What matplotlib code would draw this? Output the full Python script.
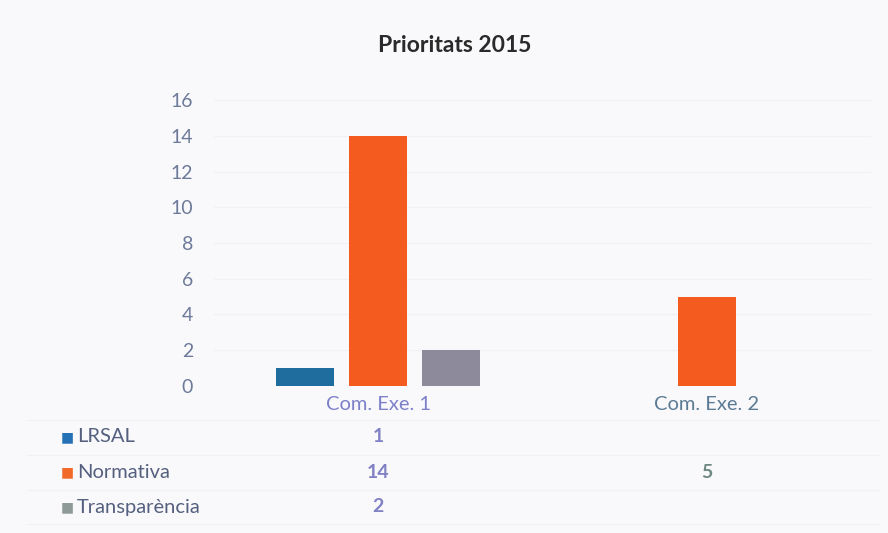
import matplotlib
matplotlib.use("Agg")
import matplotlib.pyplot as plt
from matplotlib.transforms import blended_transform_factory

categories = ["Com. Exe. 1", "Com. Exe. 2"]
series_names = ["LRSAL", "Normativa", "Transparència"]
lrsal = [1, None]
normativa = [14, 5]
transparencia = [2, None]
series_values = [lrsal, normativa, transparencia]
bar_colors = ["#1e6d9e", "#f45b1f", "#8d8b9b"]
legend_colors = ["#2472b5", "#f26a2a", "#8e9a98"]
yticks = [0, 2, 4, 6, 8, 10, 12, 14, 16]
title = "Prioritats 2015"

plt.rcParams["font.family"] = ["Lato", "DejaVu Sans"]

fig = plt.figure(figsize=(8.88, 5.33), dpi=100)
fig.patch.set_facecolor("#f9f9fc")
ax = fig.add_axes([0.241, 0.276, 0.740, 0.536])
ax.set_facecolor("#f9f9fc")

bw = 0.176
step = 0.222
for ci, cat in enumerate(categories):
    present = [(si, vals[ci]) for si, vals in enumerate(series_values) if vals[ci] is not None]
    n = len(present)
    for k, (si, v) in enumerate(present):
        x = ci + (k - (n - 1) / 2) * step
        ax.bar(x, v, width=bw, color=bar_colors[si], zorder=3)

ax.set_xlim(-0.5, 1.5)
ax.set_ylim(0, 16)
ax.set_yticks(yticks)
ax.set_yticklabels([str(t) for t in yticks], fontsize=14, color="#6d7a99")
ax.tick_params(axis="y", length=0, pad=15)
ax.set_xticks([0, 1])
ax.set_xticklabels(categories, fontsize=14.5)
ax.get_xticklabels()[0].set_color("#7d80c8")
ax.get_xticklabels()[1].set_color("#5b7b95")
ax.tick_params(axis="x", length=0, pad=7)
ax.grid(axis="y", color="#f0f0f5", linewidth=0.8, zorder=0)
for s in ax.spines.values():
    s.set_visible(False)

fig.text(0.512, 0.915, title, ha="center", va="center", fontsize=16.5, fontweight="bold", color="#2a2a2a")

# data table
row_y = [437, 472, 507]
trans = blended_transform_factory(ax.transData, fig.transFigure)
val_colors = ["#8080c4", "#6e8a80"]
for ri, (name, vals) in enumerate(zip(series_names, series_values)):
    yf = 1 - row_y[ri] / 533
    fig.text(61 / 888, yf, "\u25A0", ha="left", va="center", fontsize=10, color=legend_colors[ri],
             family=["DejaVu Sans"])
    fig.text(77 / 888, yf, name, ha="left", va="center", fontsize=14.5, color="#55607e")
    for ci, v in enumerate(vals):
        if v is not None:
            ax.text(ci, yf, str(v), transform=trans, ha="center", va="center", fontsize=14,
                    color=val_colors[ci], fontweight="bold")

for yl in [420, 455, 490, 524]:
    fig.add_artist(plt.Line2D([0.03, 0.99], [1 - yl / 533] * 2, color="#f0f0f5", linewidth=0.8))

fig.savefig("out.png", dpi=100, facecolor=fig.get_facecolor())
